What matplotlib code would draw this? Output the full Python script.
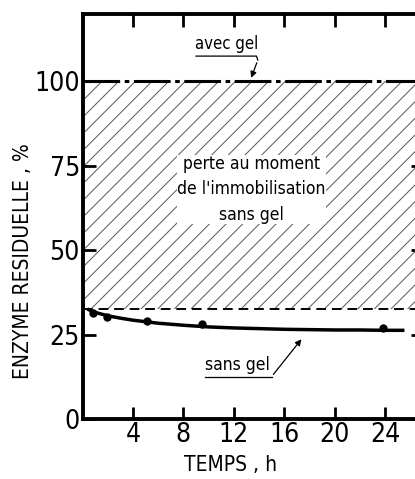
import numpy as np
import matplotlib.pyplot as plt

plt.rcParams['font.family'] = ['DejaVu Sans']
plt.rcParams['font.stretch'] = 'condensed'
plt.rcParams['hatch.linewidth'] = 0.7

# measured points, sans gel
t_pts = [0.8, 1.9, 5.1, 9.5, 23.8]
y_pts = [31.5, 30.3, 29.1, 28.2, 27.0]

# smooth curve
t_curve = [0.5, 1, 2, 3, 4, 6, 8, 10, 12, 14, 16, 18, 20, 22, 24, 25.4]
y_curve = [32.4, 31.6, 30.6, 29.9, 29.3, 28.4, 27.8, 27.3, 27.0, 26.8, 26.6, 26.5, 26.4, 26.4, 26.3, 26.3]

avec_gel = 100
sans_gel_initial = 32.5

xticks = [4, 8, 12, 16, 20, 24]
yticks = [0, 25, 50, 75, 100]

fig = plt.figure(figsize=(4.15, 4.79), dpi=100)
ax = fig.add_axes([0.199, 0.125, 0.82, 0.846])

# hatched loss region
ax.fill_between([0, 27], sans_gel_initial, avec_gel, facecolor='none',
                edgecolor='#555555', hatch='//', linewidth=0)
ax.plot([0, 27], [avec_gel, avec_gel], color='black', lw=2.2,
        linestyle=(0, (12, 1.5, 1.5, 1.5)))
ax.plot([0, 27], [sans_gel_initial, sans_gel_initial], color='black', lw=1.4,
        dashes=[5, 3])
ax.plot(t_curve, y_curve, color='black', lw=2.5)
ax.plot(t_pts, y_pts, 'o', color='black', ms=5)

# labels with leaders
ax.text(11.4, 108.5, 'avec gel', fontsize=12, ha='center', va='bottom')
ax.plot([9.0, 13.8, 13.9], [107.5, 107.5, 106.3], color='black', lw=0.9)
ax.annotate('', xy=(13.3, 100.3), xytext=(13.9, 106.3),
            arrowprops=dict(arrowstyle='-|>', color='black', lw=0.9, mutation_scale=9))

ax.text(13.4, 68, "perte au moment\nde l'immobilisation\nsans gel", fontsize=12.5,
        ha='center', va='center', linespacing=1.55,
        bbox=dict(facecolor='white', edgecolor='none', pad=0))

ax.text(12.3, 13.5, 'sans gel', fontsize=12.5, ha='center', va='bottom')
ax.plot([9.7, 15.0], [12.6, 12.6], color='black', lw=0.9)
ax.annotate('', xy=(17.5, 24.3), xytext=(15.0, 12.6),
            arrowprops=dict(arrowstyle='-|>', color='black', lw=0.9, mutation_scale=9))

ax.set_xlim(0, 27)
ax.set_ylim(0, 120)
ax.set_xticks(xticks)
ax.set_yticks(yticks)
ax.tick_params(direction='in', length=9, width=2, labelsize=19, pad=2,
               top=True, right=True)
for s in ax.spines.values():
    s.set_linewidth(2.8)

ax.set_xlabel('TEMPS , h', fontsize=15)
ax.set_ylabel('ENZYME RESIDUELLE , %', fontsize=15)
ax.xaxis.set_label_coords(0.434, -0.088)
ax.yaxis.set_label_coords(-0.145, 0.39)

fig.savefig('out.png', dpi=100)
